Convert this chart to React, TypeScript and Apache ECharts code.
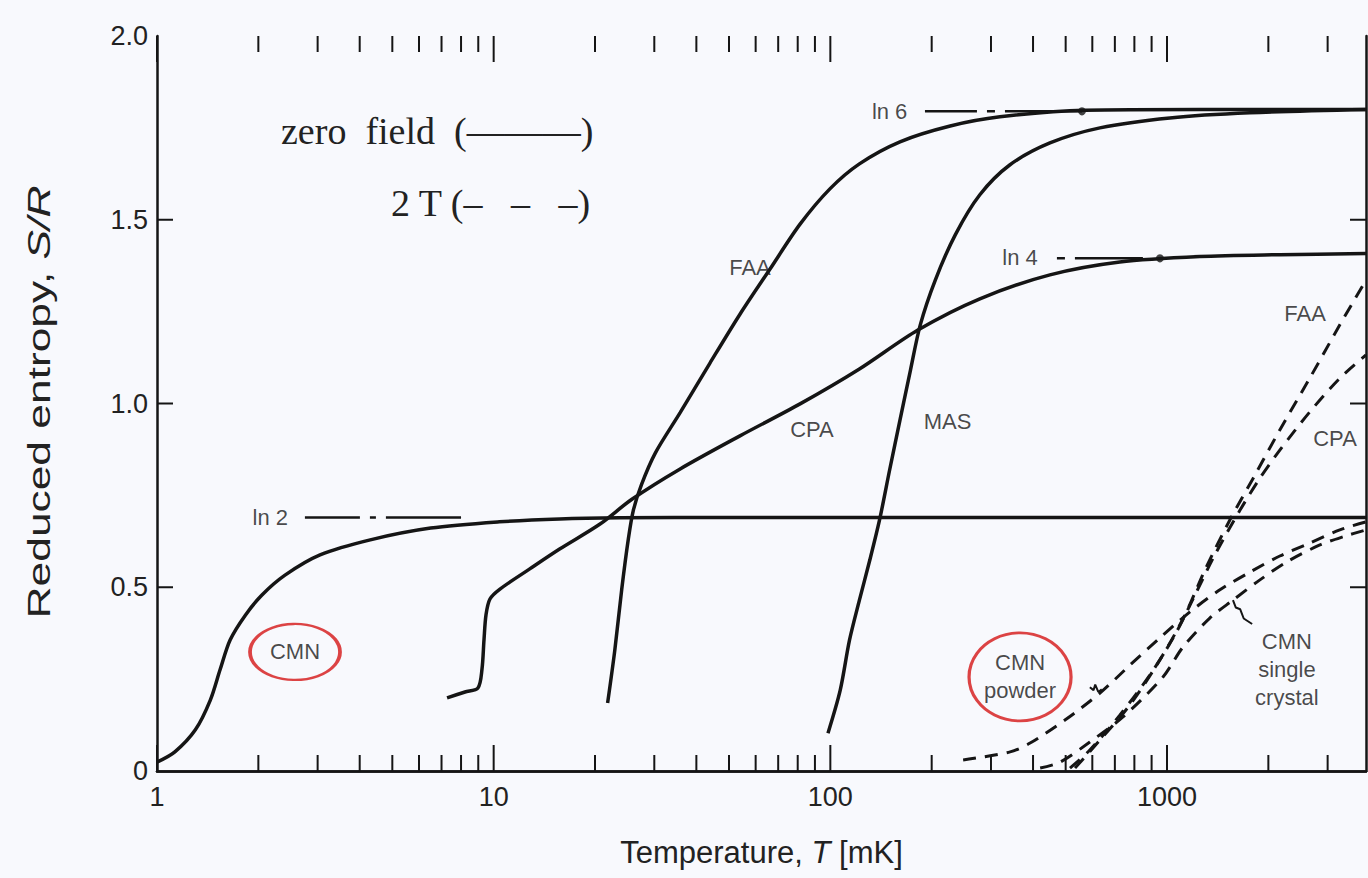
import React, { useEffect, useRef } from "react";
import * as echarts from "echarts";

// ---- axis ticks ----
const xMajorTicks = [1, 10, 100, 1000];
const xMinorTicks = [2, 3, 4, 5, 6, 7, 8, 9, 20, 30, 40, 50, 60, 70, 80, 90, 200, 300, 400, 500, 600, 700, 800, 900, 2000, 3000];
const yTickValues = [0, 0.5, 1.0, 1.5, 2.0];

// ---- zero field (solid) ----
const cmnT = [1.0, 1.13, 1.3, 1.44, 1.54, 1.65, 1.83, 2.05, 2.4, 3.05, 4.3, 6.5, 10.4, 15.7, 23.7, 50, 200, 1000, 3900];
const cmnS = [0.024, 0.052, 0.112, 0.193, 0.276, 0.357, 0.424, 0.479, 0.533, 0.588, 0.629, 0.661, 0.678, 0.686, 0.689, 0.69, 0.69, 0.69, 0.69];

const cpaT = [7.27, 8.22, 8.98, 9.23, 9.36, 9.49, 9.75, 10.44, 12.8, 15.7, 20.7, 25.8, 35.8, 53.9, 81.3, 122, 182, 278, 449, 724, 1252, 2163, 3900];
const cpaS = [0.199, 0.215, 0.226, 0.276, 0.357, 0.425, 0.468, 0.495, 0.55, 0.604, 0.672, 0.74, 0.822, 0.912, 0.999, 1.094, 1.2, 1.285, 1.35, 1.385, 1.4, 1.405, 1.408];

const faaT = [21.8, 22.9, 24.0, 25.1, 26.0, 27.5, 30.2, 35.8, 43.9, 53.9, 66.2, 81.3, 99.7, 122, 161, 227, 319, 570, 1252, 3900];
const faaS = [0.185, 0.329, 0.493, 0.629, 0.71, 0.78, 0.865, 0.975, 1.11, 1.243, 1.366, 1.488, 1.584, 1.652, 1.712, 1.755, 1.78, 1.798, 1.8, 1.8];

const masT = [98.4, 107, 114, 122, 131, 140, 150, 161, 173, 185, 205, 235, 278, 341, 449, 632, 1020, 1762, 3900];
const masS = [0.103, 0.22, 0.356, 0.465, 0.574, 0.683, 0.819, 0.955, 1.091, 1.214, 1.336, 1.459, 1.568, 1.649, 1.709, 1.75, 1.777, 1.791, 1.8];

// ---- 2 T (dashed) ----
const faa2T = [533, 632, 776, 952, 1130, 1296, 1537, 1824, 2163, 2655, 3261, 3900];
const faa2S = [0.008, 0.084, 0.18, 0.302, 0.424, 0.547, 0.683, 0.805, 0.928, 1.069, 1.214, 1.336];

const cpa2T = [515, 590, 724, 889, 1055, 1211, 1387, 1648, 1888, 2163, 2655, 3261, 3900];
const cpa2S = [0.008, 0.057, 0.152, 0.261, 0.37, 0.479, 0.588, 0.71, 0.797, 0.873, 0.977, 1.069, 1.132];

const powderT = [248, 342, 392, 500, 632, 776, 952, 1170, 1436, 1762, 2163, 2655, 3261, 3900];
const powderS = [0.03, 0.052, 0.076, 0.14, 0.212, 0.288, 0.362, 0.433, 0.493, 0.541, 0.585, 0.62, 0.656, 0.678];

const crystalT = [420, 481, 590, 740, 973, 1115, 1340, 1570, 1888, 2270, 2845, 3375, 3900];
const crystalS = [0.008, 0.024, 0.079, 0.147, 0.256, 0.337, 0.416, 0.465, 0.52, 0.569, 0.615, 0.639, 0.656];

// ---- ln n reference levels ----
const ln6T = [191, 559];
const ln6S = [1.795, 1.795];
const ln4T = [471, 848];
const ln4S = [1.395, 1.395];
const ln2T = [2.75, 8.0];
const ln2S = [0.69, 0.69];
const dotT = [559, 953];
const dotS = [1.795, 1.395];

// ---- text annotations ----
const labelNames = ["FAA", "CPA", "MAS", "FAA", "CPA", "ln 6", "ln 4", "ln 2", "CMN\nsingle\ncrystal"];
const labelT = [57.7, 88.2, 223, 2570, 3155, 150, 366, 2.17, 2270];
const labelS = [1.369, 0.928, 0.95, 1.245, 0.905, 1.795, 1.398, 0.69, 0.275];

const circledNames = ["CMN", "CMN\npowder"];
const circledT = [2.57, 366];
const circledS = [0.324, 0.256];

// leader lines
const powderLeadT = [590, 605, 612, 625, 640];
const powderLeadS = [0.228, 0.22, 0.235, 0.215, 0.222];
const crystalLeadT = [1570, 1600, 1650, 1690, 1790];
const crystalLeadS = [0.465, 0.445, 0.44, 0.415, 0.4];

const FONT = '"Liberation Sans", Arial, Helvetica, sans-serif';
const SERIF = '"Liberation Serif", "Times New Roman", serif';
const INK = "#151515";
const MAJOR_LEN = 26;
const MINOR_LEN = 16;
const Y_TICK_LEN = 16;

function zip(t: number[], s: number[]) {
  return t.map((v, i) => [v, s[i]]);
}

export default function App() {
  const ref = useRef<HTMLDivElement>(null);

  useEffect(() => {
    const chart = echarts.init(ref.current as HTMLDivElement, null, { renderer: "svg" });

    const solid = (name: string, t: number[], s: number[]) => ({
      type: "line",
      name,
      data: zip(t, s),
      showSymbol: false,
      smooth: 0.3,
      silent: true,
      lineStyle: { color: INK, width: 3.5 },
      z: 3,
    });
    const dashed = (name: string, t: number[], s: number[]) => ({
      type: "line",
      name,
      data: zip(t, s),
      showSymbol: false,
      smooth: 0.3,
      silent: true,
      lineStyle: { color: INK, width: 3, type: [13, 9] },
      z: 3,
    });
    const refLine = (name: string, t: number[], s: number[], dash: number[]) => ({
      type: "line",
      name,
      data: zip(t, s),
      showSymbol: false,
      silent: true,
      lineStyle: { color: INK, width: 2.5, type: dash },
      z: 3,
    });
    const leader = (name: string, t: number[], s: number[]) => ({
      type: "line",
      name,
      data: zip(t, s),
      showSymbol: false,
      silent: true,
      lineStyle: { color: INK, width: 2 },
      z: 3,
    });

    const axisLine = { show: true, lineStyle: { color: INK, width: 2.5 } };
    const xMin = xMajorTicks[0];
    const xMax = 3900;
    const yMin = yTickValues[0];
    const yMax = yTickValues[yTickValues.length - 1];

    const tickData = [
      ...xMajorTicks.map((v) => [v, MAJOR_LEN]),
      ...xMinorTicks.map((v) => [v, MINOR_LEN]),
    ];
    const yTickData = yTickValues.filter((v) => v > yMin && v < yMax).map((v) => [xMin, v]);

    const option: any = {
      animation: false,
      backgroundColor: "#f8f9fd",
      textStyle: { fontFamily: FONT },
      grid: { left: 157, right: 2, top: 36, bottom: 107, containLabel: false },
      xAxis: [
        {
          type: "log",
          logBase: 10,
          min: xMin,
          max: xMax,
          position: "bottom",
          axisLine,
          axisTick: { show: false },
          axisLabel: {
            show: true,
            interval: 0,
            margin: 12,
            fontSize: 27,
            color: "#222",
            fontFamily: FONT,
            showMaxLabel: false,
            formatter: (v: number) => (xMajorTicks.some((m) => Math.abs(m - v) < 1e-6 * m) ? String(Math.round(v)) : ""),
          },
          splitLine: { show: false },
          name: "{a|Temperature, }{b|T}{a| [mK]}",
          nameLocation: "middle",
          nameGap: 66,
          nameTextStyle: {
            rich: {
              a: { fontSize: 31, color: "#222", fontFamily: FONT },
              b: { fontSize: 31, color: "#222", fontFamily: FONT, fontStyle: "italic" },
            },
          },
        },
        {
          type: "log",
          logBase: 10,
          min: xMin,
          max: xMax,
          position: "top",
          axisLine,
          axisTick: { show: false },
          axisLabel: { show: false },
          splitLine: { show: false },
        },
      ],
      yAxis: [
        {
          type: "value",
          min: yMin,
          max: yMax,
          interval: 0.5,
          position: "left",
          axisLine,
          axisTick: { show: false },
          axisLabel: {
            margin: 9,
            fontSize: 27,
            color: "#222",
            fontFamily: FONT,
            formatter: (v: number) => (v === 0 ? "0" : v.toFixed(1)),
          },
          splitLine: { show: false },
        },
        {
          type: "value",
          min: yMin,
          max: yMax,
          interval: 0.5,
          position: "right",
          axisLine,
          axisTick: { show: false },
          axisLabel: { show: false },
          splitLine: { show: false },
        },
      ],
      graphic: [
        {
          type: "text",
          x: 39,
          y: 402,
          rotation: Math.PI / 2,
          scaleX: 1.43,
          silent: true,
          style: {
            text: "{a|Reduced entropy, }{b|S/R}",
            align: "center",
            verticalAlign: "middle",
            textAlign: "center",
            textVerticalAlign: "middle",
            rich: {
              a: { fontSize: 31, fill: "#222", fontFamily: FONT },
              b: { fontSize: 31, fill: "#222", fontFamily: FONT, fontStyle: "italic" },
            },
          },
        },
        {
          type: "text",
          left: 281,
          top: 112,
          silent: true,
          style: { text: "zero  field  (———)", font: "38px " + SERIF, fill: "#222" },
        },
        {
          type: "text",
          left: 391,
          top: 184,
          silent: true,
          style: { text: "2 T (–   –   –)", font: "38px " + SERIF, fill: "#222" },
        },
      ],
      series: [
        {
          type: "custom",
          name: "x ticks",
          data: tickData,
          encode: { x: 0 },
          silent: true,
          clip: false,
          z: 6,
          renderItem: (_p: any, api: any) => {
            const v = api.value(0);
            const len = api.value(1);
            const b = api.coord([v, yMin]);
            const t = api.coord([v, yMax]);
            return {
              type: "group",
              children: [
                { type: "line", shape: { x1: b[0], y1: b[1], x2: b[0], y2: b[1] - len }, style: { stroke: INK, lineWidth: 2 } },
                { type: "line", shape: { x1: t[0], y1: t[1], x2: t[0], y2: t[1] + len }, style: { stroke: INK, lineWidth: 2 } },
              ],
            };
          },
        },
        {
          type: "custom",
          name: "y ticks",
          data: yTickData,
          encode: { x: 0, y: 1 },
          silent: true,
          clip: false,
          z: 6,
          renderItem: (_p: any, api: any) => {
            const v = api.value(1);
            const l = api.coord([xMin, v]);
            const r = api.coord([xMax, v]);
            return {
              type: "group",
              children: [
                { type: "line", shape: { x1: l[0], y1: l[1], x2: l[0] + Y_TICK_LEN, y2: l[1] }, style: { stroke: INK, lineWidth: 2 } },
                { type: "line", shape: { x1: r[0], y1: r[1], x2: r[0] - Y_TICK_LEN, y2: r[1] }, style: { stroke: INK, lineWidth: 2 } },
              ],
            };
          },
        },
        solid("CMN", cmnT, cmnS),
        solid("CPA", cpaT, cpaS),
        solid("FAA", faaT, faaS),
        solid("MAS", masT, masS),
        dashed("FAA 2T", faa2T, faa2S),
        dashed("CPA 2T", cpa2T, cpa2S),
        dashed("CMN powder 2T", powderT, powderS),
        dashed("CMN single crystal 2T", crystalT, crystalS),
        refLine("ln 6", ln6T, ln6S, [52, 10, 8, 10, 90]),
        refLine("ln 4", ln4T, ln4S, [8, 10, 70, 40]),
        refLine("ln 2", ln2T, ln2S, [55, 10, 6, 10, 90]),
        leader("powder leader", powderLeadT, powderLeadS),
        leader("crystal leader", crystalLeadT, crystalLeadS),
        {
          type: "scatter",
          name: "dots",
          data: zip(dotT, dotS),
          symbol: "circle",
          symbolSize: 8,
          itemStyle: { color: INK },
          silent: true,
          z: 4,
        },
        {
          type: "scatter",
          name: "labels",
          data: labelNames.map((n, i) => ({ value: [labelT[i], labelS[i]], name: n })),
          symbolSize: 0,
          silent: true,
          z: 5,
          label: {
            show: true,
            position: "inside",
            formatter: (p: any) => p.name,
            fontSize: 22,
            lineHeight: 28,
            color: "#1a1a1a",
            fontFamily: FONT,
          },
        },
        {
          type: "scatter",
          name: "circled",
          data: circledNames.map((n, i) => ({ value: [circledT[i], circledS[i]], name: n })),
          symbol: "circle",
          symbolSize: (_v: any, p: any) => (p.dataIndex === 0 ? [90, 56] : [102, 88]),
          silent: true,
          z: 5,
          itemStyle: { color: "rgba(0,0,0,0)", borderColor: "#d41515", borderWidth: 3 },
          label: {
            show: true,
            position: "inside",
            formatter: (p: any) => p.name,
            fontSize: 22,
            lineHeight: 28,
            color: "#1a1a1a",
            fontFamily: FONT,
          },
        },
      ],
    };

    chart.setOption(option);
    return () => chart.dispose();
  }, []);

  return <div ref={ref} style={{ position: "fixed", left: 0, top: 0, width: 1368, height: 878 }} />;
}
